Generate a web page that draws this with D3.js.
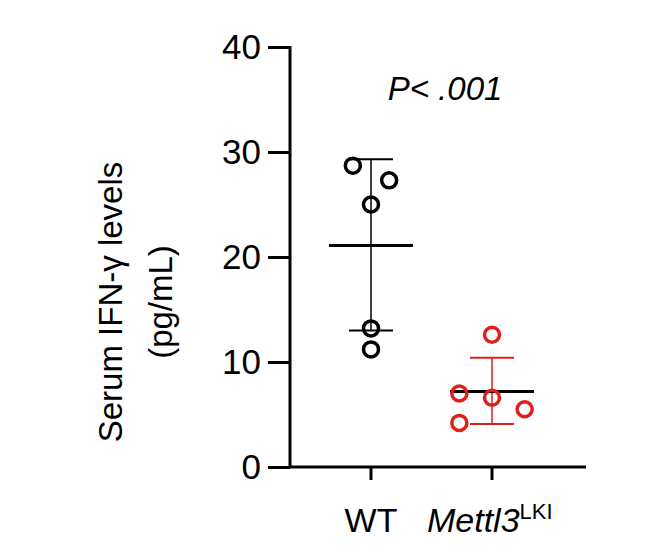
<!DOCTYPE html>
<html>
<head>
<script src="https://d3js.org/d3.v7.min.js"></script>
<style>body{margin:0;background:#fff;font-family:Arial,"Liberation Sans",sans-serif;}</style>
</head>
<body>
<div id="chart"></div>
<script>
const groups = ["WT", "Mettl3"];
const colors = ["#000000", "#e0201b"];
const wtValues = [28.7, 27.3, 25.0, 13.2, 11.2];
const wtJitter = [-0.15, 0.15, 0, 0, 0];
const koValues = [12.6, 7.0, 6.6, 5.5, 4.2];
const koJitter = [0, -0.27, 0, 0.27, -0.27];
const means = [21.1, 7.2];
const errLow = [13.0, 4.1];
const errHigh = [29.3, 10.4];
const yTicks = [0, 10, 20, 30, 40];

const svg = d3.select("#chart").append("svg").attr("width", 654).attr("height", 554);
const y = d3.scaleLinear().domain([0, 40]).range([467, 47]);
const x = d3.scaleLinear().domain([0, 1]).range([371, 492]);
const sp = 121;

const ax = svg.append("g").attr("transform", "translate(290,0)")
  .call(d3.axisLeft(y).tickValues(yTicks).tickSize(22).tickPadding(7));
ax.select(".domain").remove();
ax.selectAll(".tick line").attr("stroke-width", 3);
ax.selectAll("text").attr("font-size", 35).attr("fill", "#000");
svg.append("line").attr("x1", 290).attr("x2", 290).attr("y1", 46).attr("y2", 468).attr("stroke", "#000").attr("stroke-width", 3);
svg.append("line").attr("x1", 289).attr("x2", 586).attr("y1", 467).attr("y2", 467).attr("stroke", "#000").attr("stroke-width", 3);
groups.forEach((g, i) => {
  svg.append("line").attr("x1", x(i)).attr("x2", x(i)).attr("y1", 467).attr("y2", 480).attr("stroke", "#000").attr("stroke-width", 3);
});

groups.forEach((g, i) => {
  const c = colors[i];
  svg.append("line").attr("x1", x(i)).attr("x2", x(i)).attr("y1", y(errLow[i])).attr("y2", y(errHigh[i])).attr("stroke", c).attr("stroke-width", 1.5);
  [errLow[i], errHigh[i]].forEach(v => svg.append("line").attr("x1", x(i) - 22).attr("x2", x(i) + 22).attr("y1", y(v)).attr("y2", y(v)).attr("stroke", c).attr("stroke-width", 2));
  svg.append("line").attr("x1", x(i) - 42).attr("x2", x(i) + 42).attr("y1", y(means[i])).attr("y2", y(means[i])).attr("stroke", "#000").attr("stroke-width", 3);
});

const pts = wtValues.map((v, k) => [0, wtJitter[k], v]).concat(koValues.map((v, k) => [1, koJitter[k], v]));
svg.selectAll("circle.p").data(pts).enter().append("circle")
  .attr("cx", d => x(d[0]) + d[1] * sp).attr("cy", d => y(d[2])).attr("r", 7.5)
  .attr("fill", "none").attr("stroke", d => colors[d[0]]).attr("stroke-width", 3.5);

svg.append("text").attr("x", 445).attr("y", 100).attr("text-anchor", "middle").attr("font-size", 33).attr("font-style", "italic").text("P< .001");

svg.append("text").attr("x", 371).attr("y", 532).attr("text-anchor", "middle").attr("font-size", 34).text("WT");
const t = svg.append("text").attr("x", 427).attr("y", 532).attr("font-size", 34);
t.append("tspan").attr("font-style", "italic").text("Mettl3");
t.append("tspan").attr("font-size", 22).attr("dy", -13).text("LKI");

const yl = svg.append("text").attr("transform", "translate(122,302) rotate(-90)").attr("text-anchor", "middle").attr("font-size", 33);
yl.append("tspan").attr("x", 0).attr("dy", 0).text("Serum IFN-γ levels");
yl.append("tspan").attr("x", 0).attr("dy", 50).text("(pg/mL)");
</script>
</body>
</html>
